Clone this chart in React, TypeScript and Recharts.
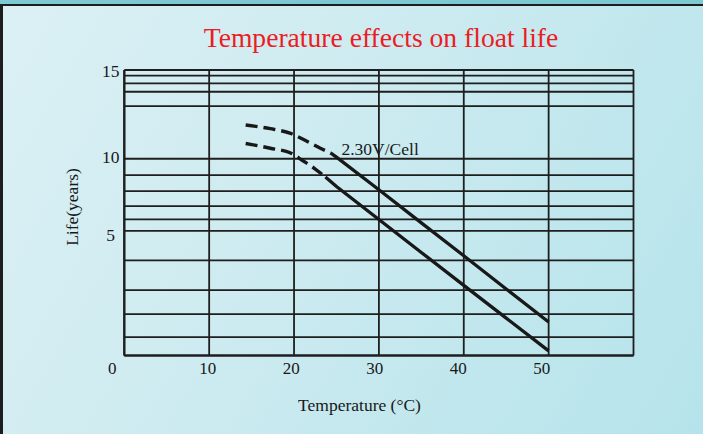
import React from 'react';
import { LineChart, Line, XAxis, YAxis, CartesianGrid, ReferenceDot } from 'recharts';

const FONT = '"Liberation Serif", "Times New Roman", Times, serif';

// ---- axis definitions ----
const xTicks = [0, 10, 20, 30, 40, 50, 60];
const xTickLabels = ['0', '10', '20', '30', '40', '50', ''];
const yGridYears = [0, 1, 2, 3, 4, 5, 6, 7, 8, 9, 10, 11, 12, 13, 14, 15];
const yTickLabelYears = [5, 10, 15];
// the printed chart's year grid is not evenly spaced: relative height of each year line
const yGridSpacing = [0, 0.0641, 0.1448, 0.2289, 0.333, 0.4367, 0.4767, 0.5233, 0.5759, 0.632, 0.6891, 0.8738, 0.9239, 0.9534, 0.98, 1];

// ---- series: 2.30V/Cell float life band ----
const upperDashedTemp = [14.3, 17.2, 19.6, 21.3, 23.1, 24.3];
const upperDashedLife = [10.64, 10.57, 10.48, 10.35, 10.2, 10.11];
const upperSolidTemp = [24.3, 25, 30, 35, 40, 45, 50];
const upperSolidLife = [10.11, 10.03, 8.08, 5.7, 4.16, 3.04, 1.66];
const lowerDashedTemp = [14.3, 17.2, 19.6, 21.1, 22.5, 23.7];
const lowerDashedLife = [10.29, 10.2, 10.11, 9.86, 9.37, 8.88];
const lowerSolidTemp = [23.7, 25, 30, 35, 40, 45, 50];
const lowerSolidLife = [8.88, 8.28, 5.99, 4.27, 3.16, 1.83, 0.25];

const curveLabel = '2.30V/Cell';
const curveLabelAt = { t: 25.47, life: 10.18 };

const toRows = (t: number[], v: number[]) => t.map((temp, i) => ({ t: temp, life: v[i] }));

// piecewise scale following the printed grid
function makeStopScale(stops: number[], fr: number[]) {
  const frac = (v: number) => {
    const n = stops.length;
    if (v <= stops[0]) return fr[0] + ((v - stops[0]) * (fr[1] - fr[0])) / (stops[1] - stops[0]);
    for (let i = 1; i < n; i++) {
      if (v <= stops[i]) {
        const k = (v - stops[i - 1]) / (stops[i] - stops[i - 1]);
        return fr[i - 1] + k * (fr[i] - fr[i - 1]);
      }
    }
    return fr[n - 1] + ((v - stops[n - 1]) * (fr[n - 1] - fr[n - 2])) / (stops[n - 1] - stops[n - 2]);
  };
  const build = (dom: number[], rng: number[]): any => {
    let d = dom.slice();
    let r = rng.slice();
    const s: any = (v: any) => {
      const n = Number(v);
      if (v == null || !isFinite(n)) return undefined;
      const f0 = frac(Number(d[0]));
      const f1 = frac(Number(d[d.length - 1]));
      const k = (frac(n) - f0) / (f1 - f0);
      return r[0] + k * (r[r.length - 1] - r[0]);
    };
    s.domain = (x?: any[]) => {
      if (x === undefined) return d.slice();
      d = x.map(Number);
      return s;
    };
    s.range = (x?: any[]) => {
      if (x === undefined) return r.slice();
      r = x.map(Number);
      return s;
    };
    s.copy = () => build(d, r);
    s.ticks = () => stops.slice();
    s.tickFormat = () => (v: any) => String(v);
    s.nice = () => s;
    s.clamp = () => s;
    s.invert = (px: number) => {
      const k = (px - r[0]) / (r[r.length - 1] - r[0]);
      const f0 = frac(Number(d[0]));
      const f1 = frac(Number(d[d.length - 1]));
      const f = f0 + k * (f1 - f0);
      for (let i = 1; i < fr.length; i++) {
        if (f <= fr[i]) return stops[i - 1] + ((f - fr[i - 1]) / (fr[i] - fr[i - 1])) * (stops[i] - stops[i - 1]);
      }
      return stops[stops.length - 1];
    };
    return s;
  };
  return build([stops[0], stops[stops.length - 1]], [0, 1]);
}

const yScale = makeStopScale(yGridYears, yGridSpacing);

const INK = '#181818';
const yTickNudge: Record<number, number> = { 15: 0.7, 10: -1.7, 5: 4.3 };

const XTick = (props: any) => {
  const { x, y, payload } = props;
  const v = payload.value;
  const label = xTickLabels[xTicks.indexOf(v)];
  if (!label) return <g />;
  const dx = v === 0 ? -12 : -0.14 * v;
  return (
    <text x={x + dx} y={y + 12.2} dy="0.355em" textAnchor="middle" fill={INK} fontSize={17} fontFamily={FONT}>
      {label}
    </text>
  );
};

const YTick = (props: any) => {
  const { x, y, payload } = props;
  const v = payload.value;
  if (!yTickLabelYears.includes(v)) return <g />;
  return (
    <text x={x - 13.6} y={y + (yTickNudge[v] || 0)} dy="0.355em" textAnchor="middle" fill={INK} fontSize={17.5} fontFamily={FONT}>
      {String(v)}
    </text>
  );
};

export default function App() {
  return (
    <div style={{ position: 'absolute', left: 0, top: 0, width: 703, height: 434, overflow: 'hidden', background: '#7cc8d3' }}>
      <div
        style={{
          position: 'absolute',
          left: 0,
          top: 4,
          width: 703,
          height: 430,
          boxSizing: 'border-box',
          borderTop: '2px solid #1d1d1d',
          borderLeft: '3px solid #1d1d1d',
          background: 'linear-gradient(120deg, #dbf0f4 0%, #d0ecf1 35%, #c3e8ee 65%, #b6e3eb 100%)',
        }}
      />
      <div
        style={{
          position: 'absolute',
          left: 381,
          top: 23.5,
          transform: 'translateX(-50%)',
          whiteSpace: 'nowrap',
          fontFamily: FONT,
          fontSize: 27.6,
          lineHeight: 1,
          color: '#ec1c24',
        }}
      >
        Temperature effects on float life
      </div>
      <div
        style={{
          position: 'absolute',
          left: 359.5,
          top: 406,
          transform: 'translate(-50%, -50%)',
          whiteSpace: 'nowrap',
          fontFamily: FONT,
          fontSize: 17.5,
          lineHeight: 1,
          color: INK,
        }}
      >
        Temperature (°C)
      </div>
      <div
        style={{
          position: 'absolute',
          left: 72.5,
          top: 207,
          transform: 'translate(-50%, -50%) rotate(-90deg)',
          whiteSpace: 'nowrap',
          fontFamily: FONT,
          fontSize: 17.5,
          lineHeight: 1,
          color: INK,
        }}
      >
        Life(years)
      </div>
      <div style={{ position: 'absolute', left: 0, top: 0 }}>
        <LineChart
          width={703}
          height={434}
          margin={{ top: 70, right: 69.5, bottom: 48.5, left: 64.3 }}
          style={{ fontFamily: FONT }}
        >
          <CartesianGrid stroke="#1e1e1e" strokeWidth={1.8} />
          <XAxis
            dataKey="t"
            type="number"
            domain={[0, 60]}
            ticks={xTicks}
            interval={0}
            height={30}
            tickSize={0}
            tickMargin={0}
            tick={<XTick />}
            axisLine={{ stroke: '#1e1e1e', strokeWidth: 2.2 }}
            allowDuplicatedCategory={false}
          />
          <YAxis
            type="number"
            domain={[0, 15]}
            scale={yScale}
            ticks={yGridYears}
            interval={0}
            width={60}
            tickSize={0}
            tickMargin={0}
            tick={<YTick />}
            axisLine={{ stroke: '#1e1e1e', strokeWidth: 2.2 }}
          />
          <Line data={toRows(upperDashedTemp, upperDashedLife)} dataKey="life" type="monotone" stroke={INK} strokeWidth={3.4} strokeDasharray="12 6" dot={false} activeDot={false} isAnimationActive={false} />
          <Line data={toRows(upperSolidTemp, upperSolidLife)} dataKey="life" type="linear" stroke={INK} strokeWidth={3.3} dot={false} activeDot={false} isAnimationActive={false} />
          <Line data={toRows(lowerDashedTemp, lowerDashedLife)} dataKey="life" type="monotone" stroke={INK} strokeWidth={3.4} strokeDasharray="12 6" dot={false} activeDot={false} isAnimationActive={false} />
          <Line data={toRows(lowerSolidTemp, lowerSolidLife)} dataKey="life" type="linear" stroke={INK} strokeWidth={3.3} dot={false} activeDot={false} isAnimationActive={false} />
          <ReferenceDot
            x={curveLabelAt.t}
            y={curveLabelAt.life}
            r={1}
            fill="none"
            stroke="none"
            label={{ value: curveLabel, position: 'right', offset: 0, fill: INK, fontSize: 17.5, fontFamily: FONT }}
          />
        </LineChart>
      </div>
    </div>
  );
}
